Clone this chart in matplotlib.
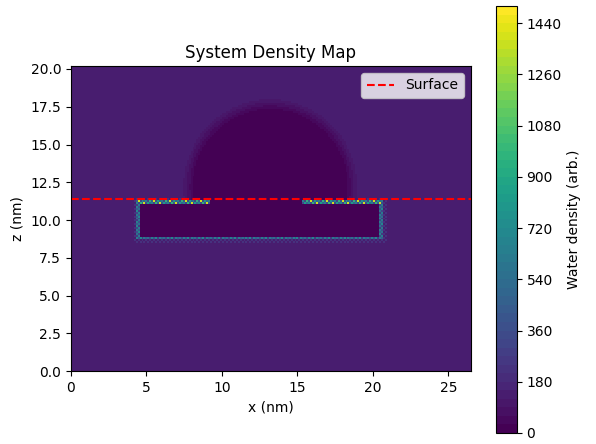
import numpy as np
import matplotlib
matplotlib.use("Agg")
import matplotlib.pyplot as plt
from matplotlib.colors import BoundaryNorm

# box size (nm) and grid
box_x = 26.5
box_z = 20.2
cell = 0.13

# density levels
bulk_density = 140      # water far from everything
drop_density = 10       # inside the dark half-sphere
slab_density = 15       # inside the slab
halo_density = 230      # thin layer just outside the slab
rim_values = [560, 300, 640, 380, 700, 260, 600, 420]
top_rim_values = [650, 300, 980, 420, 1400, 350, 820, 500]

# geometry
slab_x = (4.35, 20.65)
slab_z = (8.72, 11.3)
rim_width = 0.2
gap_x = (9.2, 15.3)     # top of slab with no bright rim (under droplet)
drop_center = (13.2, 12.2)
drop_radius = 5.45
drop_blur = 0.9
surface_z = 11.4
levels = np.arange(0, 1501, 30)

nx = int(round(box_x / cell))
nz = int(round(box_z / cell))
x_edges = np.linspace(0, box_x, nx + 1)
z_edges = np.linspace(0, box_z, nz + 1)
xc = 0.5 * (x_edges[:-1] + x_edges[1:])
zc = 0.5 * (z_edges[:-1] + z_edges[1:])
X, Z = np.meshgrid(xc, zc)
I, J = np.meshgrid(np.arange(nx), np.arange(nz))

rho = np.full(X.shape, float(bulk_density))

# droplet (dark cap sitting on the slab)
d = np.hypot(X - drop_center[0], Z - drop_center[1])
ramp = np.clip((d - (drop_radius - drop_blur / 2)) / drop_blur, 0, 1)
in_drop = (Z >= slab_z[1]) & (ramp < 1)
rho[in_drop] = drop_density + (bulk_density - drop_density) * ramp[in_drop]

# halo around slab (every other cell)
outer = (X >= slab_x[0]) & (X <= slab_x[1]) & (Z >= slab_z[0]) & (Z <= slab_z[1])
halo = ((X >= slab_x[0] - rim_width) & (X <= slab_x[1] + rim_width)
        & (Z >= slab_z[0] - rim_width) & (Z <= slab_z[1] + rim_width) & ~outer
        & ~in_drop & (((I + J) % 2) == 0))
rho[halo] = halo_density

# slab with speckled rim
inner = ((X > slab_x[0] + rim_width) & (X < slab_x[1] - rim_width)
         & (Z > slab_z[0] + rim_width) & (Z < slab_z[1] - rim_width))
rim = outer & ~inner
top_rim = rim & (Z >= slab_z[1] - rim_width)
rho[outer] = slab_density
idx = (I + 3 * J) % len(rim_values)
rho[rim] = np.array(rim_values)[idx[rim]]
rho[top_rim] = np.array(top_rim_values)[idx[top_rim]]
under_drop = top_rim & (X > gap_x[0]) & (X < gap_x[1])
rho[under_drop] = slab_density

fig = plt.figure(figsize=(5.96, 4.44), dpi=100)
ax = fig.add_axes([0.1174, 0.1644, 0.6745, 0.687])
cax = fig.add_axes([0.832, 0.0248, 0.0352, 0.9617])

norm = BoundaryNorm(levels, 256)
mesh = ax.pcolormesh(x_edges, z_edges, rho, cmap="viridis", norm=norm)
ax.axhline(surface_z, color="red", linestyle="--", linewidth=1.5, label="Surface")
ax.set_xlim(0, box_x)
ax.set_ylim(0, box_z)
ax.set_aspect("equal")
ax.set_xlabel("x (nm)")
ax.set_ylabel("z (nm)")
ax.set_title("System Density Map")
ax.legend(loc="upper right")

cb = fig.colorbar(mesh, cax=cax)
cb.minorticks_off()
cb.set_label("Water density (arb.)")

fig.savefig("out.png", dpi=100)
